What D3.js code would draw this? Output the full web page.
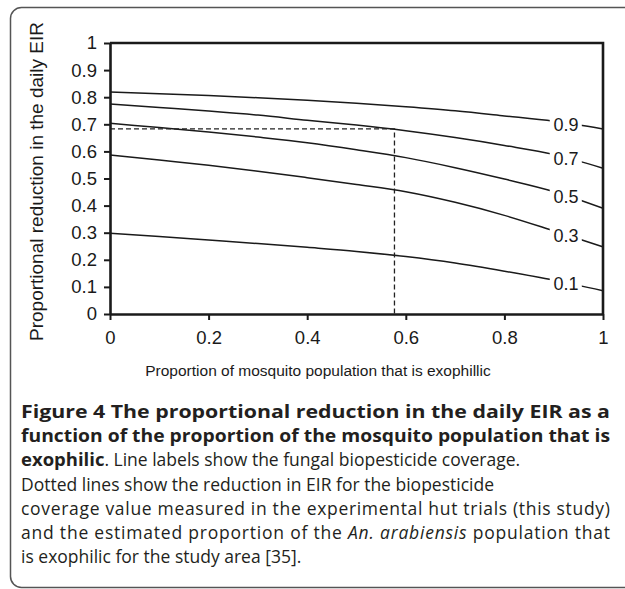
<!DOCTYPE html>
<html>
<head>
<meta charset="utf-8">
<script src="https://cdn.jsdelivr.net/npm/d3@7/dist/d3.min.js"></script>
<style>
  body { margin: 0; background: #fff; }
  svg { display: block; }
</style>
</head>
<body>
<svg width="625" height="589"></svg>
<script>
// values
var exophily = [0, 0.1, 0.2, 0.3, 0.4, 0.5, 0.6, 0.7, 0.8, 0.9, 1];
var coverageLabels = ['0.1', '0.3', '0.5', '0.7', '0.9'];
var reduction01 = [0.298, 0.286, 0.273, 0.260, 0.246, 0.231, 0.212, 0.188, 0.158, 0.125, 0.086];
var reduction03 = [0.587, 0.568, 0.549, 0.527, 0.503, 0.478, 0.451, 0.412, 0.364, 0.307, 0.248];
var reduction05 = [0.704, 0.688, 0.672, 0.653, 0.632, 0.606, 0.577, 0.540, 0.498, 0.452, 0.390];
var reduction07 = [0.775, 0.762, 0.749, 0.734, 0.715, 0.697, 0.676, 0.651, 0.622, 0.589, 0.538];
var reduction09 = [0.819, 0.813, 0.806, 0.798, 0.789, 0.778, 0.765, 0.750, 0.731, 0.711, 0.683];
var measuredExophily = 0.577;
var measuredReduction = 0.683;
var xTicks = [0, 0.2, 0.4, 0.6, 0.8, 1];
var yTicks = [0, 0.1, 0.2, 0.3, 0.4, 0.5, 0.6, 0.7, 0.8, 0.9, 1];
var xTitle = 'Proportion of mosquito population that is exophillic';
var yTitle = 'Proportional reduction in the daily EIR';
// each caption line: pieces of [text, style]
var captionLines = [
    [['Figure 4 The proportional reduction in the daily EIR as a', 'b']],
    [['function of the proportion of the mosquito population that is', 'b']],
    [['exophilic', 'b'], ['. Line labels show the fungal biopesticide coverage.', 'n']],
    [['Dotted lines show the reduction in EIR for the biopesticide', 'n']],
    [['coverage value measured in the experimental hut trials (this study)', 'n']],
    [['and the estimated proportion of the ', 'n'], ['An. arabiensis', 'i'], [' population that', 'n']],
    [['is exophilic for the study area [35].', 'n']]
];
// lines of the justified paragraph that run to the full width
var justified = [true, true, false, false, true, true, false];

var series = [reduction01, reduction03, reduction05, reduction07, reduction09].map(function(vals, i) {
    return {
        label: coverageLabels[i],
        points: exophily.map(function(e, j) { return [e, vals[j]]; })
    };
});

var svg = d3.select('svg');
var x = d3.scaleLinear().domain([0, 1]).range([110, 603]);
var y = d3.scaleLinear().domain([0, 1]).range([314, 43]);
var ink = '#1a1a1a';
var arial = 'Arial, "Liberation Sans", sans-serif';

// frame around figure + caption
svg.append('rect')
    .attr('x', 10.5).attr('y', 7.5)
    .attr('width', 700).attr('height', 580)
    .attr('rx', 11)
    .style('fill', 'none')
    .style('stroke', '#555')
    .style('stroke-width', 1.5);

var chart = svg.append('g').attr('class', 'chart');

// curves
var line = d3.line()
    .x(function(d) { return x(d[0]); })
    .y(function(d) { return y(d[1]); })
    .curve(d3.curveMonotoneX);

chart.append('g').attr('class', 'curves')
    .selectAll('path')
    .data(series)
    .join('path')
    .attr('d', function(d) { return line(d.points); })
    .style('fill', 'none')
    .style('stroke', ink)
    .style('stroke-width', 1.5);

// dashed guide lines
var guide = d3.line()
    .x(function(d) { return x(d[0]); })
    .y(function(d) { return y(d[1]); });

chart.append('path')
    .attr('d', guide([[0, measuredReduction], [measuredExophily, measuredReduction], [measuredExophily, 0]]))
    .style('fill', 'none')
    .style('stroke', '#222')
    .style('stroke-width', 1.3)
    .style('stroke-dasharray', '5 3');

// inline line labels
var labelAt = 0.925, gapFrom = 0.892, gapTo = 0.957;
function valueAt(pts, v) {
    var i = d3.bisector(function(p) { return p[0]; }).right(pts, v) - 1;
    i = Math.max(0, Math.min(pts.length - 2, i));
    var t = (v - pts[i][0]) / (pts[i + 1][0] - pts[i][0]);
    return pts[i][1] + t * (pts[i + 1][1] - pts[i][1]);
}

var labels = chart.append('g').attr('class', 'labels')
    .selectAll('g')
    .data(series)
    .join('g');

labels.append('rect')
    .attr('x', x(gapFrom))
    .attr('width', x(gapTo) - x(gapFrom))
    .attr('y', function(d) { return y(valueAt(d.points, labelAt)) - 10; })
    .attr('height', 20)
    .style('fill', '#fff');

labels.append('text')
    .attr('x', x(labelAt))
    .attr('y', function(d) { return y(valueAt(d.points, labelAt)) + 1; })
    .attr('dy', '0.35em')
    .attr('text-anchor', 'middle')
    .style('font-family', arial)
    .style('font-size', '18px')
    .style('fill', ink)
    .text(function(d) { return d.label; });

// axes
var fmt = d3.format('');
var xAxis = chart.append('g')
    .attr('transform', 'translate(0,' + y(0) + ')')
    .call(d3.axisBottom(x).tickValues(xTicks).tickSize(6).tickSizeOuter(0).tickPadding(11).tickFormat(fmt));
var yAxis = chart.append('g')
    .attr('transform', 'translate(' + x(0) + ',0)')
    .call(d3.axisLeft(y).tickValues(yTicks).tickSize(6).tickSizeOuter(0).tickPadding(7).tickFormat(fmt));

[xAxis, yAxis].forEach(function(a) {
    a.select('.domain').style('stroke', ink).style('stroke-width', 2.6);
    a.selectAll('.tick line').style('stroke', ink).style('stroke-width', 2);
    a.selectAll('.tick text')
        .style('font-family', arial)
        .style('font-size', '18.5px')
        .style('fill', ink);
});

// top and right edges of the plot box
chart.append('path')
    .attr('d', guide([[0, 1], [1, 1], [1, 0]]))
    .style('fill', 'none')
    .style('stroke', ink)
    .style('stroke-width', 2.6);

// axis titles
svg.append('text')
    .attr('x', 318)
    .attr('y', 376)
    .attr('text-anchor', 'middle')
    .style('font-family', arial)
    .style('font-size', '15.5px')
    .style('fill', ink)
    .text(xTitle);

svg.append('text')
    .attr('transform', 'translate(43,181.5) rotate(-90)')
    .attr('text-anchor', 'middle')
    .style('font-family', arial)
    .style('font-size', '19px')
    .style('fill', ink)
    .text(yTitle);

// caption
var caption = svg.append('g').attr('class', 'caption');
captionLines.forEach(function(parts, i) {
    var t = caption.append('text')
        .attr('x', 21)
        .attr('y', 418 + i * 24.2)
        .style('font-family', '"Open Sans", sans-serif')
        .style('font-size', '17.5px')
        .style('fill', '#231f20');
    if (justified[i]) {
        t.attr('textLength', 589).attr('lengthAdjust', i < 2 ? 'spacingAndGlyphs' : 'spacing');
    }
    parts.forEach(function(p) {
        t.append('tspan')
            .style('font-weight', p[1] === 'b' ? 'bold' : 'normal')
            .style('font-size', p[1] === 'b' ? '18.5px' : null)
            .style('font-style', p[1] === 'i' ? 'italic' : 'normal')
            .text(p[0]);
    });
});
</script>
</body>
</html>
